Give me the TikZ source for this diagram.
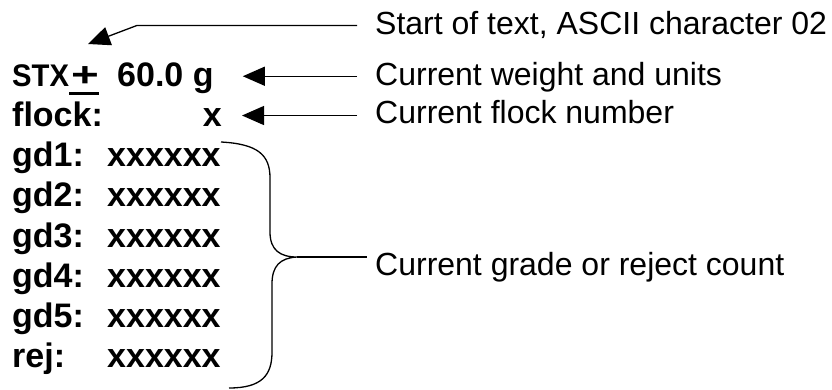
\documentclass[tikz,border=0pt]{standalone}
\usepackage{fontspec}
\setmainfont{Liberation Sans}
\usepackage{graphicx}
\usetikzlibrary{arrows.meta, calc}
\newcommand{\plusbar}{\rlap{\rule[-8pt]{30pt}{3pt}}\hspace{2pt}\scalebox{1.4}[1]{+}}

\begin{document}
\begin{tikzpicture}[
    x=1pt, y=-1pt,
    lbl/.style={inner sep=0pt, anchor=base west, font=\fontsize{34}{40}\selectfont\bfseries},
    note/.style={inner sep=0pt, anchor=base west, font=\fontsize{32}{38}\selectfont},
    arrow/.style={-{Triangle[length=22pt, width=19pt]}, line width=1.3pt},
    brace/.style={line width=1.3pt}
]
\useasboundingbox (0,0) rectangle (832,390);

\node[lbl] (stx) at (12,87) {\scalebox{0.86}[0.92]{STX}};
\node[lbl] (pm) at (69,87) {\plusbar};
\node[lbl] (wt) at (117,87) {60.0 g};
\node[lbl] (flock) at (12,127) {flock:};
\node[lbl, anchor=base east] (fx) at (222,127) {x};
\foreach \txt/\y/\id in {gd1:/167/gd1, gd2:/207/gd2, gd3:/247/gd3, gd4:/287/gd4, gd5:/327/gd5, rej:/367/rej}{
    \node[lbl] (\id) at (12,\y) {\txt};
    \node[lbl] (\id v) at (107,\y) {xxxxxx};
}

\node[note] (lstart) at (375,35) {Start of text, ASCII character 02};
\node[note] (lweight) at (375,86) {Current weight and units};
\node[note] (lflock) at (375,124) {Current flock number};
\node[note] (lgrade) at (375,275) {Current grade or reject count};

\coordinate (bend) at (137,25);
\coordinate (stxtip) at (88,44);
\coordinate (bracetip) at (297,257);

\draw[arrow] ([xshift=-18pt]lstart.west) -- (lstart.west -| bend) -- (stxtip);
\draw[arrow] ([xshift=-18pt, yshift=2.5pt]lweight.west |- wt.east) -- ([xshift=29pt, yshift=2.5pt]wt.east);
\draw[arrow] ([xshift=-18pt, yshift=2.5pt]lflock.west |- fx.east) -- ([xshift=20pt, yshift=2.5pt]fx.east);

\draw[brace] (221,142) .. controls (258,144) and (270,155) .. (270,178) -- (270,232)
    .. controls (270,250) and (280,257) .. (bracetip)
    .. controls (280,258) and (272,266) .. (272,284) -- (272,352)
    .. controls (272,375) and (262,388) .. (229,388);
\draw[brace] (bracetip) -- ([xshift=-8pt]lgrade.west |- bracetip);

\end{tikzpicture}
\end{document}
